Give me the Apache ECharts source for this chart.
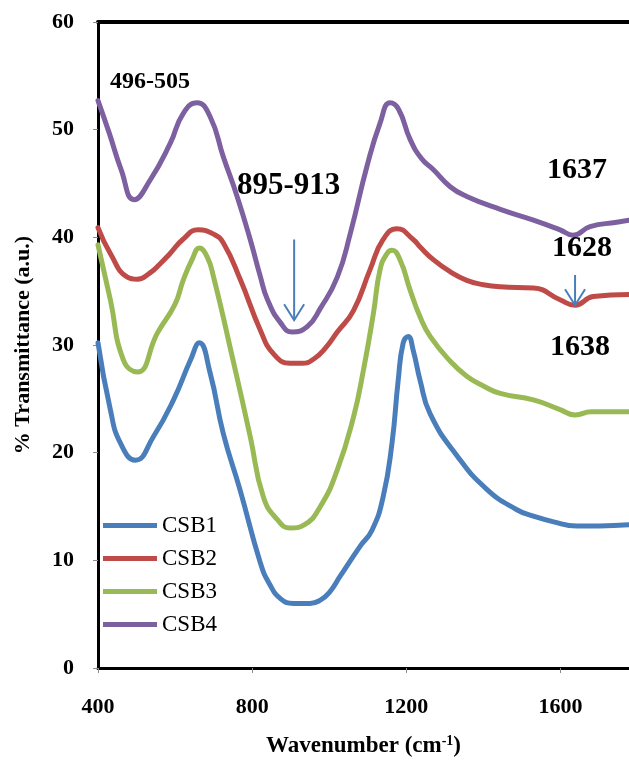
<!DOCTYPE html>
<html>
<head>
<meta charset="utf-8">
<script src="https://cdn.jsdelivr.net/npm/echarts@6/dist/echarts.min.js"></script>
<style>
html,body{margin:0;padding:0;background:#fff;}
#chart{width:629px;height:763px;}
</style>
</head>
<body>
<div id="chart"></div>
<script>
// ---- data ----
const seriesNames = ['CSB1', 'CSB2', 'CSB3', 'CSB4'];
const xTicks = [400, 800, 1200, 1600];
const yTicks = [0, 10, 20, 30, 40, 50, 60];

const csb1X = [400, 432, 458, 497, 544, 596, 640, 663, 691, 725, 769, 821, 845, 875, 907, 950, 977, 1000, 1028, 1080, 1111, 1140, 1163, 1179, 1192, 1205, 1218, 1236, 1262, 1332, 1409, 1487, 1530, 1580, 1643, 1700, 1778];
const csb1Y = [30.2, 24.0, 20.9, 19.3, 21.5, 24.9, 28.6, 30.2, 27.4, 21.8, 16.5, 9.8, 7.8, 6.4, 6.0, 6.0, 6.3, 7.0, 8.5, 11.3, 12.8, 15.9, 20.9, 26.7, 30.2, 30.8, 29.5, 26.7, 23.6, 19.7, 16.6, 14.7, 14.1, 13.6, 13.2, 13.2, 13.3];

const csb2X = [400, 432, 476, 502, 535, 560, 587, 620, 660, 700, 725, 769, 821, 855, 899, 930, 960, 990, 1021, 1063, 1106, 1140, 1176, 1218, 1236, 1271, 1314, 1357, 1400, 1444, 1530, 1599, 1638, 1685, 1778];
const csb2Y = [40.9, 38.5, 36.3, 36.1, 36.7, 37.5, 38.5, 39.8, 40.7, 40.3, 39.5, 36.1, 31.4, 29.2, 28.3, 28.3, 28.7, 29.7, 31.2, 33.2, 37.0, 39.8, 40.8, 39.8, 39.1, 37.9, 36.8, 36.0, 35.6, 35.4, 35.3, 34.2, 33.7, 34.5, 34.7];

const csb3X = [400, 432, 466, 502, 554, 600, 621, 645, 663, 683, 700, 751, 795, 829, 865, 899, 935, 977, 1021, 1063, 1089, 1115, 1132, 1150, 1163, 1184, 1210, 1236, 1262, 1314, 1357, 1400, 1444, 1530, 1599, 1638, 1680, 1778];
const csb3Y = [39.3, 34.2, 28.6, 27.5, 31.1, 33.8, 36.0, 38.0, 39.0, 38.2, 36.3, 28.5, 21.5, 15.9, 13.8, 13.0, 13.3, 15.0, 18.4, 23.3, 27.7, 33.0, 37.0, 38.5, 38.8, 37.9, 35.1, 32.6, 30.8, 28.5, 27.1, 26.2, 25.5, 24.9, 24.0, 23.5, 23.8, 23.8];

const csb4X = [400, 429, 460, 494, 535, 587, 621, 657, 691, 725, 761, 795, 821, 840, 873, 904, 943, 977, 1021, 1055, 1098, 1132, 1158, 1180, 1210, 1240, 1270, 1314, 1357, 1444, 1530, 1599, 1633, 1677, 1746, 1778];
const csb4Y = [52.7, 49.7, 46.3, 43.5, 45.3, 48.7, 51.5, 52.5, 51.2, 47.5, 43.8, 39.8, 36.4, 34.2, 32.1, 31.2, 31.7, 33.4, 36.3, 40.4, 46.6, 50.6, 52.5, 51.9, 49.1, 47.3, 46.3, 44.7, 43.8, 42.6, 41.6, 40.7, 40.2, 41.0, 41.4, 41.6];

// annotation arrows (data coords): [x, yStart, yEnd]
const arrow1 = [909, 39.8, 32.3];
const arrow2 = [1638, 36.5, 33.7];
// ---- end data ----

const colors = ['#4A7EBB', '#BE4B48', '#98B954', '#7D60A0'];
const serif = "'Liberation Serif', 'Times New Roman', serif";

function pairs(xs, ys) { return xs.map((x, i) => [x, ys[i]]); }
const allData = [pairs(csb1X, csb1Y), pairs(csb2X, csb2Y), pairs(csb3X, csb3Y), pairs(csb4X, csb4Y)];

const chart = echarts.init(document.getElementById('chart'), null, {renderer: 'canvas'});

const option = {
  animation: false,
  backgroundColor: '#ffffff',
  grid: {left: 98, top: 22, right: 0, bottom: 95, containLabel: false, outerBoundsMode: 'none'},
  legend: {
    orient: 'vertical',
    left: 103,
    top: 514,
    padding: 0,
    itemGap: 10,
    itemWidth: 54,
    itemHeight: 5,
    icon: 'rect',
    data: seriesNames,
    textStyle: {fontFamily: serif, fontSize: 23, color: '#000', lineHeight: 23, padding: [0, 0, 0, 0]}
  },
  xAxis: [{
    type: 'value',
    min: xTicks[0],
    max: 1778,
    interval: 400,
    name: 'Wavenumber (cm{sup|-1})',
    nameLocation: 'middle',
    nameGap: 66,
    nameTextStyle: {
      fontFamily: serif, fontSize: 23, fontWeight: 'bold', color: '#000',
      rich: {sup: {fontFamily: serif, fontSize: 14, fontWeight: 'bold', color: '#000', verticalAlign: 'top', padding: [0, 0, 10, 0]}}
    },
    axisLine: {show: true, onZero: false, lineStyle: {color: '#000', width: 3}},
    axisTick: {show: true, length: 5, lineStyle: {color: '#8a8a8a', width: 1}},
    axisLabel: {fontFamily: serif, fontSize: 22, fontWeight: 'bold', color: '#000', margin: 28,
      showMaxLabel: false, formatter: v => String(v)},
    splitLine: {show: false}
  }, {
    type: 'value',
    position: 'top',
    min: xTicks[0],
    max: 1778,
    axisLine: {show: true, onZero: false, lineStyle: {color: '#000', width: 4}},
    axisTick: {show: false},
    axisLabel: {show: false},
    splitLine: {show: false}
  }],
  yAxis: {
    type: 'value',
    min: yTicks[0],
    max: yTicks[yTicks.length - 1],
    interval: 10,
    name: '% Transmittance (a.u.)',
    nameLocation: 'middle',
    nameGap: 64,
    nameTextStyle: {fontFamily: serif, fontSize: 22, fontWeight: 'bold', color: '#000'},
    axisLine: {show: true, onZero: false, lineStyle: {color: '#000', width: 3}},
    axisTick: {show: true, length: 5, lineStyle: {color: '#8a8a8a', width: 1}},
    axisLabel: {fontFamily: serif, fontSize: 22, fontWeight: 'bold', color: '#000', margin: 24},
    splitLine: {show: false}
  },
  series: seriesNames.map((n, i) => ({
    name: n,
    type: 'line',
    xAxisIndex: 0,
    data: allData[i],
    smooth: 0.5,
    symbol: 'none',
    showSymbol: false,
    color: colors[i],
    lineStyle: {color: colors[i], width: 5, join: 'round', cap: 'round'},
    z: 2 + (3 - i)
  }))
};
chart.setOption(option);

function arrowGraphics(a) {
  const p0 = chart.convertToPixel({gridIndex: 0}, [a[0], a[1]]);
  const p1 = chart.convertToPixel({gridIndex: 0}, [a[0], a[2]]);
  const st = {stroke: '#4A7EBB', lineWidth: 2, fill: null};
  return [
    {type: 'line', shape: {x1: p0[0], y1: p0[1], x2: p1[0], y2: p1[1]}, style: st, z: 20},
    {type: 'polyline', shape: {points: [[p1[0] - 10, p1[1] - 16], [p1[0], p1[1]], [p1[0] + 10, p1[1] - 16]]}, style: st, z: 20}
  ];
}

function label(text, x, y, size) {
  return {type: 'text', left: x, top: y, z: 30,
    style: {text: text, fontFamily: serif, fontSize: size, fontWeight: 'bold', fill: '#000'}};
}

chart.setOption({
  graphic: [].concat(
    arrowGraphics(arrow1),
    arrowGraphics(arrow2),
    [
      label('496-505', 110, 70, 24),
      label('895-913', 237, 170, 31),
      label('1637', 547, 155, 30),
      label('1628', 552, 233, 30),
      label('1638', 550, 332, 30)
    ]
  )
});
</script>
</body>
</html>
